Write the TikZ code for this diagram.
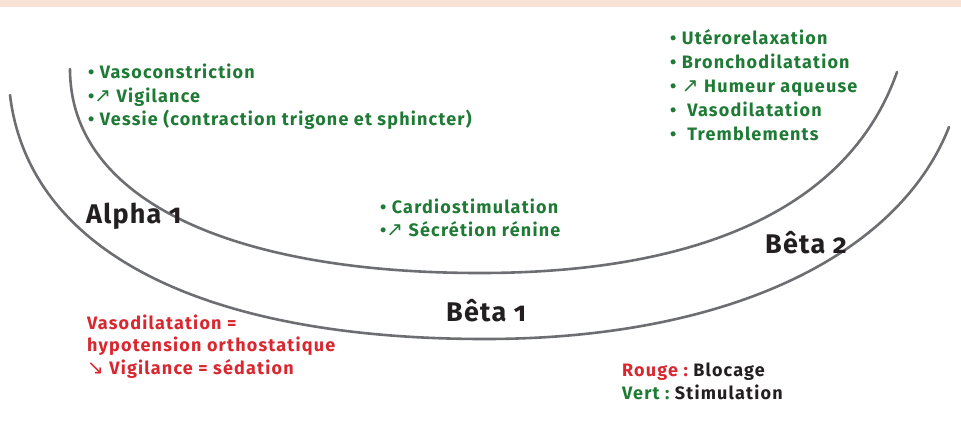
\documentclass[tikz,border=0pt]{standalone}
\usepackage{fontspec}
\setmainfont{Fira Sans}
\newfontfamily\dinf[LetterSpace=6.6]{Fira Sans}
\newfontfamily\labf[Numbers=OldStyle,LetterSpace=4.5]{Fira Sans}
\newfontfamily\arrf{DejaVu Sans}
\newcommand\myNE{{\arrf\mdseries\fontsize{20}{21}\selectfont ↗}}
\newcommand\mySE{{\arrf\mdseries\fontsize{20}{21}\selectfont ↘}}
\definecolor{grn}{HTML}{1E7A34}
\definecolor{rd}{HTML}{D9262F}
\definecolor{blk}{HTML}{231F20}
\definecolor{arcgray}{HTML}{6D6E71}
\definecolor{band}{HTML}{F8E1D5}
\tikzset{
  gtxt/.style={anchor=base west, inner sep=0pt, text=grn, font=\dinf\bfseries\fontsize{18}{21}\selectfont},
  rtxt/.style={anchor=base west, inner sep=0pt, text=rd, font=\dinf\bfseries\fontsize{18}{21}\selectfont},
  lab/.style={anchor=base west, inner sep=0pt, text=blk, font=\labf\bfseries\fontsize{27}{30}\selectfont},
  arcline/.style={draw=arcgray, line width=2.6pt, line cap=round}
}
\begin{document}
\begin{tikzpicture}[x=1pt,y=-1pt]
\useasboundingbox (0,0) rectangle (961,440);
\fill[band] (0,0) rectangle (961,6.5);
% arcs
\coordinate (iL) at (70,69);
\coordinate (iB) at (480,273);
\coordinate (iR) at (897,72);
\coordinate (oL) at (10,95);
\coordinate (oB) at (485,339);
\coordinate (oR) at (949,127);
\draw[arcline] (iL) .. controls (70,199) and (230,273) .. (iB)
                    .. controls (710,273) and (851.5,202) .. (iR);
\draw[arcline] (oL) .. controls (28.6,250) and (200,339) .. (oB)
                    .. controls (725,339) and (898,257) .. (oR);
% alpha 1 effects
\node[gtxt] (a1) at (88,78) {• Vasoconstriction};
\node[gtxt] (a2) at (88,102) {•\myNE\ Vigilance};
\node[gtxt] (a3) at (88,125) {• Vessie (contraction trigone et sphincter)};
% beta 2 effects
\node[gtxt] (b1) at (670,44) {• Utérorelaxation};
\node[gtxt] (b2) at (670,68) {• Bronchodilatation};
\node[gtxt] (b3) at (670,92) {• \myNE\ Humeur aqueuse};
\node[gtxt] (b4) at (670,116) {•\ \ Vasodilatation};
\node[gtxt] (b5) at (670,140) {•\ \ Tremblements};
% beta 1 effects
\node[gtxt] (c1) at (380,213) {• Cardiostimulation};
\node[gtxt] (c2) at (380,236) {•\myNE\ Sécrétion rénine};
% labels
\node[lab] (la) at (86,223) {Alpha 1};
\node[lab] (lb2) at (765,253) {Bêta 2};
\node[lab] (lb1) at (446,321) {Bêta 1};
% red block
\node[rtxt] (r1) at (87,329) {Vasodilatation =};
\node[rtxt] (r2) at (87,351) {hypotension orthostatique};
\node[rtxt] (r3) at (87,374) {\mySE\ Vigilance = sédation};
% legend
\node[rtxt] (l1) at (622,376) {Rouge :\ \textcolor{blk}{Blocage}};
\node[gtxt] (l2) at (622,399) {Vert :\ \textcolor{blk}{Stimulation}};
\end{tikzpicture}
\end{document}
